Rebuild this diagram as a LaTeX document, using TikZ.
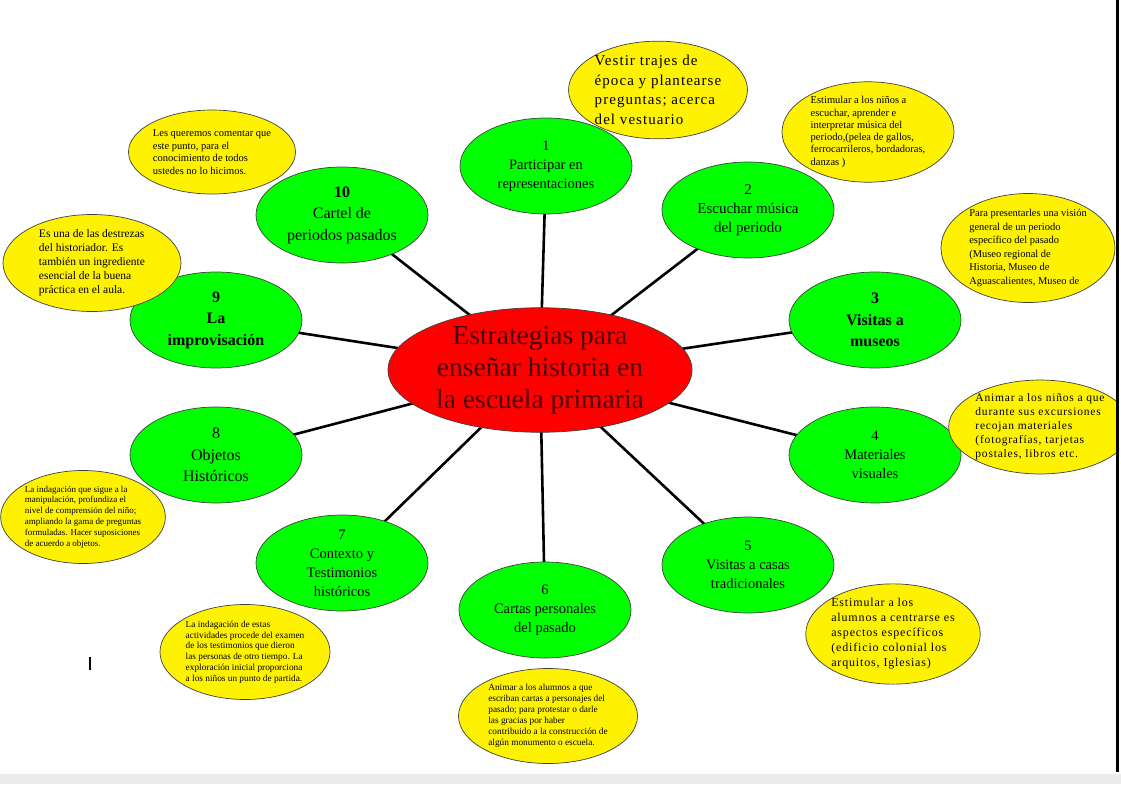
\documentclass[tikz,border=0pt]{standalone}
\usepackage{fontspec}
\setmainfont{Liberation Serif}
\newfontfamily\widefont[LetterSpace=7]{Liberation Serif}
\usepackage{tikz}
\usetikzlibrary{shapes.geometric, backgrounds}
\definecolor{hubtext}{RGB}{70,0,0}
\definecolor{lime}{RGB}{0,255,0}
\tikzset{
  hub/.style={ellipse, draw=black!75, line width=0.7pt, fill=red, inner sep=0pt,
    minimum width=304pt, minimum height=124pt, align=center, text=hubtext,
    font=\fontsize{27.5}{32}\selectfont},
  topic/.style={ellipse, draw=black!75, line width=0.7pt, fill=lime, inner sep=0pt,
    minimum width=172pt, minimum height=96pt, align=center,
    font=\fontsize{14.5}{19}\selectfont},
  bigtopic/.style={topic, font=\fontsize{16}{21.5}\selectfont},
  note/.style={ellipse, draw=black!75, line width=0.7pt, fill=yellow, inner sep=0pt,
    align=left},
  spoke/.style={line width=2.6pt}
}
\begin{document}
\begin{tikzpicture}[x=1pt, y=-1pt]
  \useasboundingbox (0,0) rectangle (1121,784);

  % === Central hub ===
  \node[hub] (hub) at (540,370) {Estrategias para\\enseñar historia en\\la escuela primaria};

  % === Strategies ===
  \node[topic] (s1) at (546,166) {1\\Participar en\\representaciones};
  \node[topic, font=\fontsize{15}{19}\selectfont] (s2) at (748,210) {2\\Escuchar música\\del periodo};
  \node[bigtopic, font=\fontsize{16}{21.5}\selectfont\bfseries] (s3) at (875,320) {3\\Visitas a\\museos};
  \node[topic] (s4) at (875,455) {4\\Materiales\\visuales};
  \node[topic] (s5) at (748,565) {5\\Visitas a casas\\tradicionales};
  \node[topic] (s6) at (545,610) {6\\Cartas personales\\del pasado};
  \node[topic] (s7) at (342,563) {7\\Contexto y\\Testimonios\\históricos};
  \node[bigtopic] (s8) at (216,455) {8\\Objetos\\Históricos};
  \node[bigtopic, font=\fontsize{16}{21.5}\selectfont\bfseries] (s9) at (216,320) {9\\La\\improvisación};
  \node[bigtopic] (s10) at (342,215) {\textbf{10}\\Cartel de\\periodos pasados};

  \begin{scope}[on background layer]
    \foreach \s in {s1,s2,s3,s4,s5,s6,s7,s8,s9,s10}
      \draw[spoke] (hub.center) -- (\s.center);
  \end{scope}

  % === Notes ===
  \node[note, minimum width=178pt, minimum height=90pt, font=\widefont\fontsize{15}{19.5}\selectfont] (n1) at (658,90)
    {Vestir trajes de\\época y plantearse\\preguntas; acerca\\del vestuario};
  \node[note, minimum width=172pt, minimum height=97pt, font=\fontsize{10.5}{12.3}\selectfont] (n2) at (868,132)
    {Estimular a los niños a\\escuchar, aprender e\\interpretar música del\\periodo,(pelea de gallos,\\ferrocarrileros, bordadoras,\\danzas )};
  \node[note, minimum width=174pt, minimum height=88pt, font=\fontsize{10.5}{13.5}\selectfont] (n3) at (1028,248)
    {Para presentarles una visión\\general de un periodo\\específico del pasado\\(Museo regional de\\Historia, Museo de\\Aguascalientes, Museo de};
  \node[note, minimum width=170pt, minimum height=88pt, font=\widefont\fontsize{11.5}{14}\selectfont] (n4) at (1040,427)
    {Animar a los niños a que\\durante sus excursiones\\recojan materiales\\(fotografías, tarjetas\\postales, libros etc.};
  \node[note, minimum width=170pt, minimum height=92pt, font=\widefont\fontsize{12}{15}\selectfont] (n5) at (893,634)
    {Estimular a los\\alumnos a centrarse es\\aspectos específicos\\(edificio colonial los\\arquitos, Iglesias)};
  \node[note, minimum width=179pt, minimum height=95pt, font=\fontsize{9.3}{11}\selectfont] (n6) at (548,716)
    {Animar a los alumnos a que\\escriban cartas a personajes del\\pasado; para protestar o darle\\las gracias por haber\\contribuido a la construcción de\\algún monumento o escuela.};
  \node[note, minimum width=170pt, minimum height=95pt, font=\fontsize{9.3}{10.8}\selectfont] (n7) at (245,652)
    {La indagación de estas\\actividades procede del examen\\de los testimonios que dieron\\las personas de otro tiempo. La\\exploración inicial proporciona\\a los niños un punto de partida.};
  \node[note, minimum width=160pt, minimum height=93pt, font=\fontsize{9}{10.8}\selectfont] (n8) at (83,517)
    {La indagación que sigue a la\\manipulación, profundiza el\\nivel de comprensión del niño;\\ampliando la gama de preguntas\\formuladas. Hacer suposiciones\\de acuerdo a objetos.};
  \node[note, minimum width=178pt, minimum height=97pt, font=\fontsize{11.5}{14}\selectfont] (n9) at (92,263)
    {Es una de las destrezas\\del historiador. Es\\también un ingrediente\\esencial de la buena\\práctica en el aula.};
  \node[note, minimum width=158pt, minimum height=84pt, font=\fontsize{10.5}{12.5}\selectfont] (n10) at (212,152)
    {Les queremos comentar que\\este punto, para el\\conocimiento de todos\\ustedes no lo hicimos.};

  % page edges
  \fill[white] (1118,0) rectangle (1121,784);
  \draw[line width=3pt] (1117,0) -- (1117,772);
  \fill[black!8] (0,774) rectangle (1121,784);
  \draw[line width=1.2pt] (90,657) -- (90,670);
\end{tikzpicture}
\end{document}
